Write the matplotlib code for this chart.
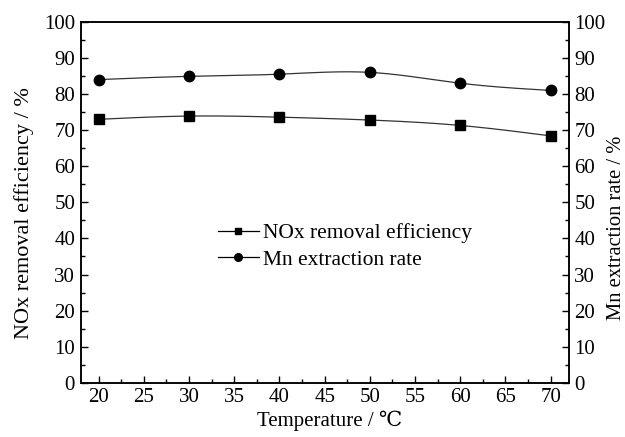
import numpy as np
from matplotlib import pyplot as plt
from matplotlib.ticker import MultipleLocator

temperature = [20, 30, 40, 50, 60, 70]
nox_removal = [73.0, 73.9, 73.6, 72.8, 71.3, 68.4]
mn_extraction = [84.0, 84.9, 85.5, 86.0, 83.0, 81.0]


def smooth(x, y, n=200):
    # natural cubic spline, just for drawing the connecting curve
    x = np.asarray(x, float)
    y = np.asarray(y, float)
    h = np.diff(x)
    m = len(x)
    A = np.zeros((m, m))
    b = np.zeros(m)
    A[0, 0] = A[-1, -1] = 1
    for i in range(1, m - 1):
        A[i, i - 1] = h[i - 1]
        A[i, i] = 2 * (h[i - 1] + h[i])
        A[i, i + 1] = h[i]
        b[i] = 6 * ((y[i + 1] - y[i]) / h[i] - (y[i] - y[i - 1]) / h[i - 1])
    M = np.linalg.solve(A, b)
    xs = np.linspace(x[0], x[-1], n)
    idx = np.clip(np.searchsorted(x, xs) - 1, 0, m - 2)
    x0, x1 = x[idx], x[idx + 1]
    hh = x1 - x0
    t0, t1 = x1 - xs, xs - x0
    ys = (M[idx] * t0 ** 3 + M[idx + 1] * t1 ** 3) / (6 * hh) \
        + (y[idx] / hh - M[idx] * hh / 6) * t0 + (y[idx + 1] / hh - M[idx + 1] * hh / 6) * t1
    return xs, ys


plt.rcParams['font.family'] = ['Liberation Serif', 'DejaVu Serif']
plt.rcParams['font.size'] = 15

fig, ax = plt.subplots(figsize=(6.25, 4.37), dpi=100)
fig.subplots_adjust(left=0.129, right=0.910, top=0.950, bottom=0.124)
ax2 = ax.twinx()

lc = '#333333'
xs, ys = smooth(temperature, nox_removal)
ax.plot(xs, ys, color=lc, lw=0.9)
ax.plot(temperature, nox_removal, 's', color='black', ms=6.5, ls='none')
xs, ys = smooth(temperature, mn_extraction)
ax.plot(xs, ys, color=lc, lw=0.9)
ax.plot(temperature, mn_extraction, 'o', color='black', ms=7.5, ls='none')

# legend handles
h1, = ax.plot([], [], '-s', color='black', ms=5, lw=0.9)
h2, = ax.plot([], [], '-o', color='black', ms=5.5, lw=0.9)
ax.legend([h1, h2], ['NOx removal efficiency', 'Mn extraction rate'],
          loc='center left', bbox_to_anchor=(0.281, 0.378), frameon=False,
          borderpad=0, borderaxespad=0, handlelength=1.9, handletextpad=0.2,
          labelspacing=0.3, fontsize=15.5)

ax.set_xlim(18, 72)
ax.set_ylim(0, 100)
ax2.set_ylim(0, 100)
ax.xaxis.set_major_locator(MultipleLocator(5))
ax.xaxis.set_minor_locator(MultipleLocator(2.5))
for a in (ax, ax2):
    a.yaxis.set_major_locator(MultipleLocator(10))
    a.yaxis.set_minor_locator(MultipleLocator(5))
    a.tick_params(which='major', direction='in', length=5, width=1, pad=4)
    a.tick_params(which='minor', direction='in', length=3, width=1)
    for s in a.spines.values():
        s.set_linewidth(1.1)
ax.tick_params(axis='x', which='both', top=False)

ax.set_xlabel('Temperature / ℃', labelpad=2, fontsize=15)
ax.xaxis.label.set_x(0.51)
ax.set_ylabel('NOx removal efficiency / %', labelpad=7, fontsize=16)
ax.yaxis.label.set_y(0.47)
ax2.set_ylabel('Mn extraction rate / %', labelpad=1, fontsize=14.8)
ax2.yaxis.label.set_y(0.43)

plt.savefig('out.png', dpi=100)
